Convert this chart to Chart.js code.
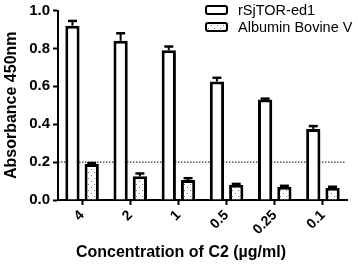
<!DOCTYPE html>
<html>
<head>
<meta charset="utf-8">
<script src="https://cdn.jsdelivr.net/npm/chart.js@4.4.0/dist/chart.umd.min.js"></script>
<style>
  html, body { margin: 0; padding: 0; background: #fff; }
  #wrap { width: 358px; height: 264px; }
</style>
</head>
<body>
<div id="wrap"><canvas id="myChart" width="358" height="264"></canvas></div>
<script>
// data
const categories = ['4', '2', '1', '0.5', '0.25', '0.1'];
const seriesNames = ['rSjTOR-ed1', 'Albumin Bovine V'];
const torValues = [0.92, 0.84, 0.79, 0.625, 0.53, 0.375];
const torErrors = [0.025, 0.04, 0.02, 0.02, 0.005, 0.015];
const bsaValues = [0.19, 0.125, 0.105, 0.08, 0.07, 0.065];
const bsaErrors = [0.005, 0.015, 0.01, 0.005, 0.005, 0.005];
const yTicks = [0.0, 0.2, 0.4, 0.6, 0.8, 1.0];
const cutoff = 0.2;
const xTitle = 'Concentration of C2 (\u00b5g/ml)';
const yTitle = 'Absorbance 450nm';

Chart.defaults.font.family = "'Liberation Sans', Arial, sans-serif";
Chart.defaults.color = '#000';

// dotted fill for the BSA bars
function makeDots() {
    const c = document.createElement('canvas');
    c.width = 6;
    c.height = 6;
    const g = c.getContext('2d');
    g.fillStyle = '#fff';
    g.fillRect(0, 0, 6, 6);
    g.fillStyle = '#7a7a7a';
    g.fillRect(1, 1, 1, 1);
    g.fillRect(4, 4, 1, 1);
    return g.createPattern(c, 'repeat');
}
const dots = makeDots();

const cutoffLine = {
    id: 'cutoffLine',
    beforeDatasetsDraw(chart) {
        const ctx = chart.ctx;
        const area = chart.chartArea;
        const py = chart.scales.y.getPixelForValue(cutoff);
        ctx.save();
        ctx.strokeStyle = '#000';
        ctx.lineWidth = 1;
        ctx.setLineDash([1.5, 1.5]);
        ctx.beginPath();
        ctx.moveTo(area.left, py);
        ctx.lineTo(area.right - 2, py);
        ctx.stroke();
        ctx.restore();
    }
};

const errorBars = {
    id: 'errorBars',
    afterDatasetsDraw(chart) {
        const ctx = chart.ctx;
        const yScale = chart.scales.y;
        ctx.save();
        ctx.strokeStyle = '#000';
        chart.data.datasets.forEach((ds, i) => {
            const meta = chart.getDatasetMeta(i);
            meta.data.forEach((bar, j) => {
                const top = yScale.getPixelForValue(ds.data[j] + ds.errors[j]);
                ctx.lineWidth = 2;
                ctx.beginPath();
                ctx.moveTo(bar.x, bar.y);
                ctx.lineTo(bar.x, top);
                ctx.stroke();
                ctx.lineWidth = 2.5;
                ctx.beginPath();
                ctx.moveTo(bar.x - 4.5, top);
                ctx.lineTo(bar.x + 4.5, top);
                ctx.stroke();
            });
        });
        ctx.restore();
    }
};

const extras = {
    id: 'extras',
    afterDraw(chart) {
        const ctx = chart.ctx;
        ctx.save();
        // legend
        chart.data.datasets.forEach((ds, i) => {
            const by = 6 + i * 17;
            ctx.fillStyle = ds.backgroundColor;
            ctx.strokeStyle = '#000';
            ctx.lineWidth = 2;
            ctx.beginPath();
            ctx.roundRect(206, by, 21, 8, 2);
            ctx.fill();
            ctx.stroke();
            ctx.fillStyle = '#000';
            ctx.font = "14.5px 'Liberation Sans', Arial, sans-serif";
            ctx.textAlign = 'left';
            ctx.textBaseline = 'middle';
            ctx.fillText(ds.label, 238, by + 4.5);
        });
        // x axis title
        ctx.font = "bold 16px 'Liberation Sans', Arial, sans-serif";
        ctx.textAlign = 'center';
        ctx.textBaseline = 'middle';
        ctx.fillText(xTitle, 181, 253);
        ctx.restore();
    }
};

new Chart(document.getElementById('myChart'), {
    type: 'bar',
    data: {
        labels: categories,
        datasets: [{
            label: seriesNames[0],
            data: torValues,
            errors: torErrors,
            backgroundColor: '#fff',
            borderColor: '#000',
            borderWidth: 3,
            borderSkipped: 'start'
        }, {
            label: seriesNames[1],
            data: bsaValues,
            errors: bsaErrors,
            backgroundColor: dots,
            borderColor: '#000',
            borderWidth: 3,
            borderSkipped: 'start'
        }]
    },
    options: {
        responsive: false,
        animation: false,
        devicePixelRatio: 1,
        barPercentage: 0.74,
        categoryPercentage: 0.8,
        layout: { padding: { top: 7, right: 11, left: 0, bottom: 0 } },
        plugins: {
            legend: { display: false },
            tooltip: { enabled: false }
        },
        scales: {
            x: {
                grid: {
                    drawOnChartArea: false,
                    offset: false,
                    tickLength: 5,
                    tickWidth: 2,
                    tickColor: '#000'
                },
                border: { color: '#000', width: 2 },
                ticks: {
                    color: '#000',
                    autoSkip: false,
                    minRotation: 45,
                    maxRotation: 45,
                    padding: 2,
                    font: { size: 14, weight: 'bold' }
                },
                afterFit: scale => { scale.height = 64; }
            },
            y: {
                min: 0,
                max: 1,
                afterBuildTicks: scale => {
                    scale.ticks = yTicks.map(v => ({ value: v }));
                },
                grid: {
                    drawOnChartArea: false,
                    tickLength: 5,
                    tickWidth: 2,
                    tickColor: '#000'
                },
                border: { color: '#000', width: 2 },
                ticks: {
                    color: '#000',
                    padding: 3,
                    font: { size: 15, weight: 'bold', lineHeight: 1 },
                    callback: v => Number(v).toFixed(1)
                },
                title: {
                    display: true,
                    text: yTitle,
                    color: '#000',
                    padding: { top: 2, bottom: 0 },
                    font: { size: 16, weight: 'bold' }
                },
                afterFit: scale => { scale.width = 58; }
            }
        }
    },
    plugins: [cutoffLine, errorBars, extras]
});
</script>
</body>
</html>
